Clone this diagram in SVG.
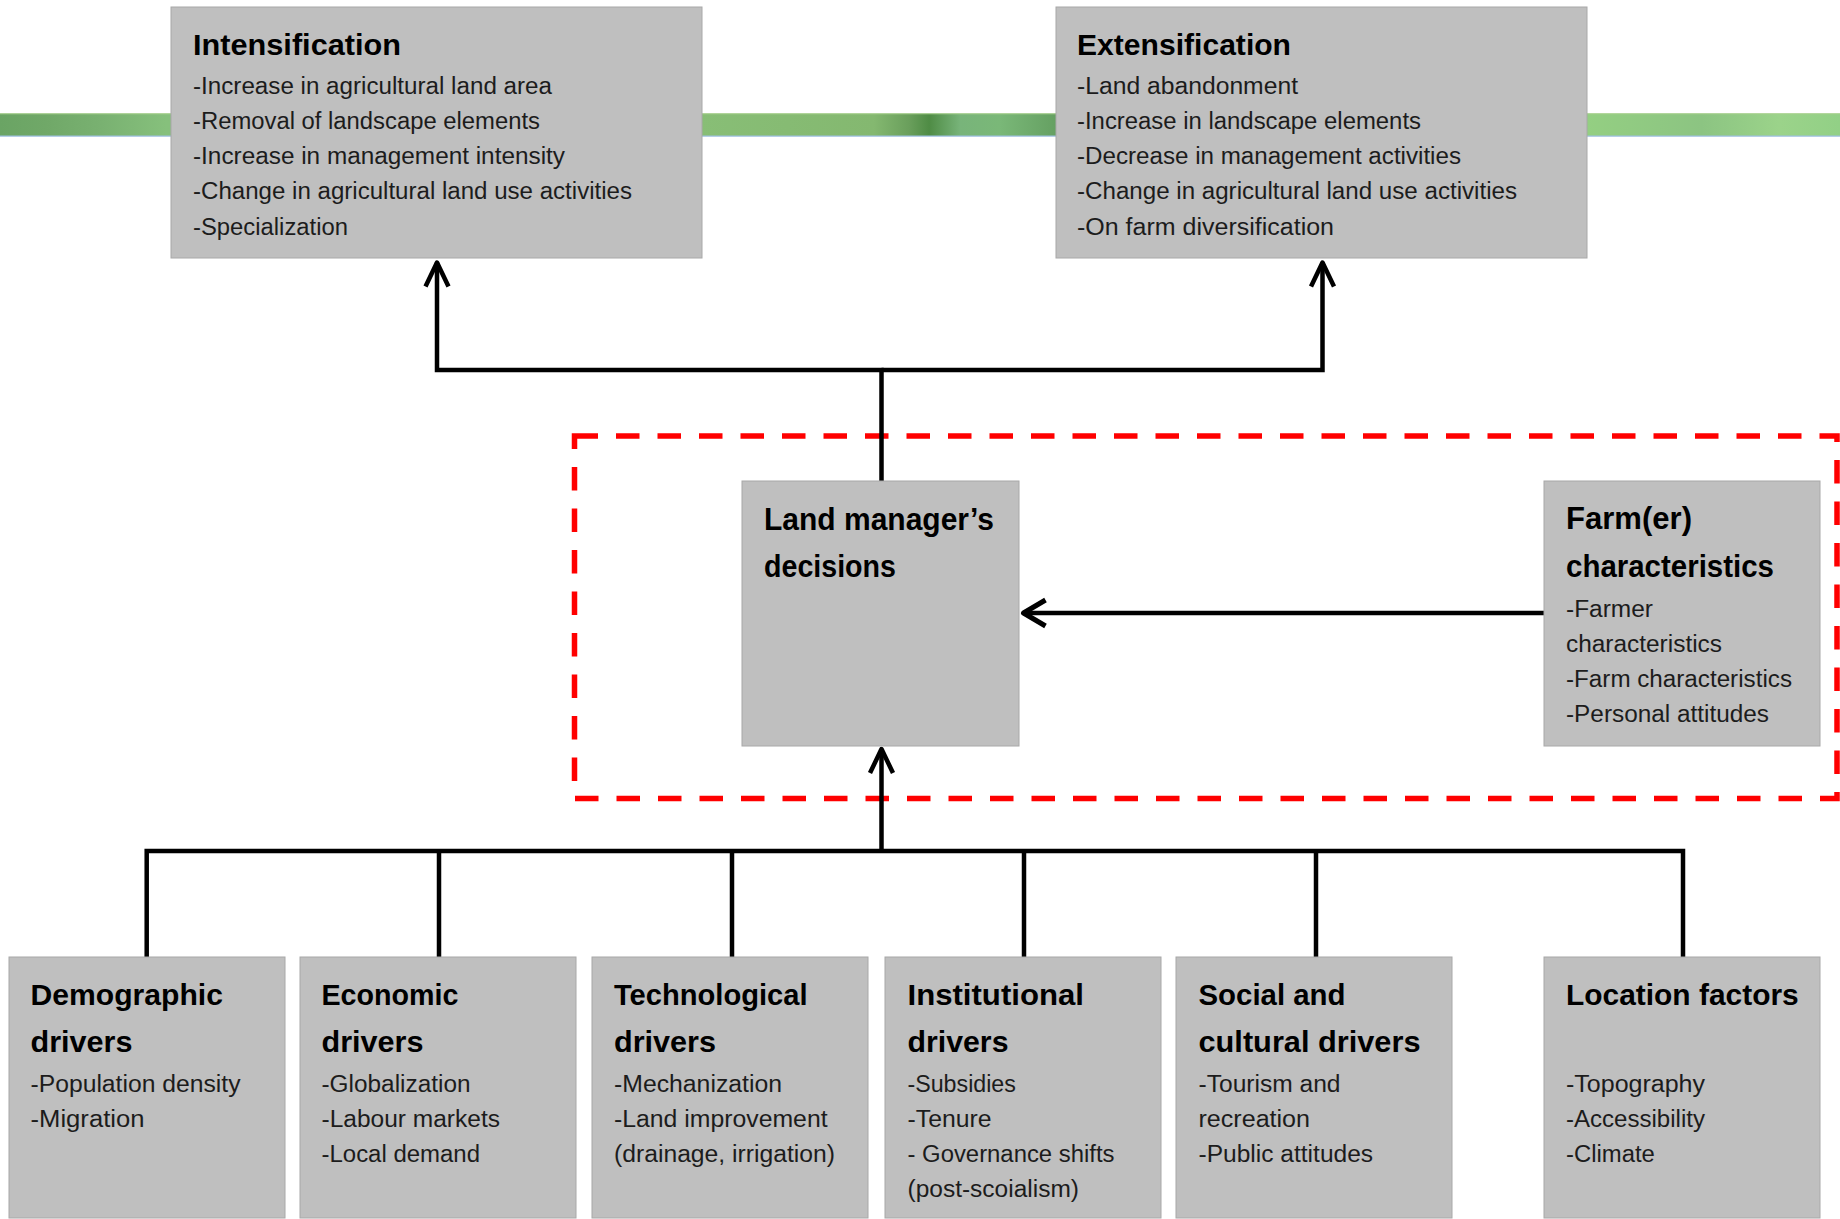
<svg xmlns="http://www.w3.org/2000/svg" width="1840" height="1219" viewBox="0 0 1840 1219">
<style>
.box{fill:#bfbfbf;stroke:#a8a8a8;stroke-width:1}
.t{font-family:"Liberation Sans Narrow","Liberation Sans",Arial,sans-serif;font-weight:bold;font-size:30px;fill:#000}
.t2{font-family:"Liberation Sans Narrow","Liberation Sans",Arial,sans-serif;font-weight:bold;font-size:31px;fill:#000}
.b{font-family:"Liberation Sans Narrow","Liberation Sans",Arial,sans-serif;font-size:23.5px;fill:#1c1c1c}
.ln{fill:none;stroke:#000;stroke-width:4.5;stroke-linejoin:miter}
</style>
<defs>
<linearGradient id="band" x1="0" y1="0" x2="1840" y2="0" gradientUnits="userSpaceOnUse">
<stop offset="0" stop-color="#6aa464"/>
<stop offset="0.025" stop-color="#70a868"/>
<stop offset="0.055" stop-color="#79b171"/>
<stop offset="0.09" stop-color="#86c07c"/>
<stop offset="0.38" stop-color="#88be76"/>
<stop offset="0.475" stop-color="#84b870"/>
<stop offset="0.494" stop-color="#6a9f5c"/>
<stop offset="0.505" stop-color="#4f8c45"/>
<stop offset="0.522" stop-color="#78b47a"/>
<stop offset="0.543" stop-color="#7ab878"/>
<stop offset="0.574" stop-color="#65a062"/>
<stop offset="0.862" stop-color="#94cf82"/>
<stop offset="0.925" stop-color="#8cc482"/>
<stop offset="0.967" stop-color="#9bd38a"/>
<stop offset="1" stop-color="#92d086"/>
</linearGradient>
<marker id="ah" markerUnits="userSpaceOnUse" viewBox="-30 -16 34 32" refX="0" refY="0" markerWidth="34" markerHeight="32" orient="auto" overflow="visible">
<path d="M-24,-11.5 L0,0 L-24,11.5" fill="none" stroke="#000" stroke-width="4.5" stroke-linejoin="round"/>
</marker>
<marker id="ah2" markerUnits="userSpaceOnUse" viewBox="-30 -16 34 32" refX="0" refY="0" markerWidth="34" markerHeight="32" orient="auto" overflow="visible">
<path d="M-22,-13 L0,0 L-22,13" fill="none" stroke="#000" stroke-width="5" stroke-linejoin="round"/>
</marker>
</defs>

<g id="band-bg">
<rect x="0" y="113.5" width="1840" height="22.5" fill="url(#band)"/>
<line x1="0" y1="113.8" x2="1840" y2="113.8" stroke="#a9d18e" stroke-width="1"/>
<line x1="0" y1="136.2" x2="1840" y2="136.2" stroke="#9dbfe0" stroke-width="1.2"/>
</g>

<g id="frame">
<rect x="574.5" y="436" width="1262.5" height="362.5" fill="none" stroke="#ff0000" stroke-width="5.5" stroke-dasharray="23.5 18"/>
</g>

<g id="connectors">
<path class="ln" d="M881.5,481 V370 H437 V262.5" marker-end="url(#ah)"/>
<path class="ln" d="M881.5,370 H1322.5 V262.5" marker-end="url(#ah)"/>
<path class="ln" d="M146.7,957 V851 H1683 V957"/>
<path class="ln" d="M439,851 V957"/>
<path class="ln" d="M732,851 V957"/>
<path class="ln" d="M1024,851 V957"/>
<path class="ln" d="M1316,851 V957"/>
<path class="ln" d="M881.5,851 V749" marker-end="url(#ah)"/>
<path class="ln" d="M1544,613 H1023.5" stroke-width="5.5" marker-end="url(#ah2)"/>
</g>

<g id="intensification">
<rect class="box" x="171" y="7" width="531" height="251"/>
<text class="t" x="193" y="55" textLength="208" lengthAdjust="spacingAndGlyphs">Intensification</text>
<text class="b" x="193" y="94" textLength="359" lengthAdjust="spacingAndGlyphs">-Increase in agricultural land area</text>
<text class="b" x="193" y="129" textLength="347" lengthAdjust="spacingAndGlyphs">-Removal of landscape elements</text>
<text class="b" x="193" y="164" textLength="372" lengthAdjust="spacingAndGlyphs">-Increase in management intensity</text>
<text class="b" x="193" y="199" textLength="439" lengthAdjust="spacingAndGlyphs">-Change in agricultural land use activities</text>
<text class="b" x="193" y="235" textLength="155" lengthAdjust="spacingAndGlyphs">-Specialization</text>
</g>

<g id="extensification">
<rect class="box" x="1056" y="7" width="531" height="251"/>
<text class="t" x="1077" y="55" textLength="214" lengthAdjust="spacingAndGlyphs">Extensification</text>
<text class="b" x="1077" y="94" textLength="221" lengthAdjust="spacingAndGlyphs">-Land abandonment</text>
<text class="b" x="1077" y="129" textLength="344" lengthAdjust="spacingAndGlyphs">-Increase in landscape elements</text>
<text class="b" x="1077" y="164" textLength="384" lengthAdjust="spacingAndGlyphs">-Decrease in management activities</text>
<text class="b" x="1077" y="199" textLength="440" lengthAdjust="spacingAndGlyphs">-Change in agricultural land use activities</text>
<text class="b" x="1077" y="235" textLength="257" lengthAdjust="spacingAndGlyphs">-On farm diversification</text>
</g>

<g id="land-manager">
<rect class="box" x="742" y="481" width="277" height="265"/>
<text class="t2" x="764" y="530" textLength="230" lengthAdjust="spacingAndGlyphs">Land manager’s</text>
<text class="t2" x="764" y="577" textLength="132" lengthAdjust="spacingAndGlyphs">decisions</text>
</g>

<g id="farmer">
<rect class="box" x="1544" y="481" width="276" height="265"/>
<text class="t2" x="1566" y="529" textLength="126" lengthAdjust="spacingAndGlyphs">Farm(er)</text>
<text class="t2" x="1566" y="577" textLength="208" lengthAdjust="spacingAndGlyphs">characteristics</text>
<text class="b" x="1566" y="617" textLength="87" lengthAdjust="spacingAndGlyphs">-Farmer</text>
<text class="b" x="1566" y="652" textLength="156" lengthAdjust="spacingAndGlyphs">characteristics</text>
<text class="b" x="1566" y="687" textLength="226" lengthAdjust="spacingAndGlyphs">-Farm characteristics</text>
<text class="b" x="1566" y="722" textLength="203" lengthAdjust="spacingAndGlyphs">-Personal attitudes</text>
</g>

<g id="demographic">
<rect class="box" x="9" y="957" width="276" height="261"/>
<text class="t" x="30.5" y="1005" textLength="192.5" lengthAdjust="spacingAndGlyphs">Demographic</text>
<text class="t" x="30.5" y="1052" textLength="102" lengthAdjust="spacingAndGlyphs">drivers</text>
<text class="b" x="30.5" y="1092" textLength="210" lengthAdjust="spacingAndGlyphs">-Population density</text>
<text class="b" x="30.5" y="1127" textLength="114" lengthAdjust="spacingAndGlyphs">-Migration</text>
</g>

<g id="economic">
<rect class="box" x="300" y="957" width="276" height="261"/>
<text class="t" x="321.5" y="1005" textLength="137" lengthAdjust="spacingAndGlyphs">Economic</text>
<text class="t" x="321.5" y="1052" textLength="102" lengthAdjust="spacingAndGlyphs">drivers</text>
<text class="b" x="321.5" y="1092" textLength="149" lengthAdjust="spacingAndGlyphs">-Globalization</text>
<text class="b" x="321.5" y="1127" textLength="178.5" lengthAdjust="spacingAndGlyphs">-Labour markets</text>
<text class="b" x="321.5" y="1162" textLength="158.5" lengthAdjust="spacingAndGlyphs">-Local demand</text>
</g>

<g id="technological">
<rect class="box" x="592" y="957" width="276" height="261"/>
<text class="t" x="614" y="1005" textLength="193.6" lengthAdjust="spacingAndGlyphs">Technological</text>
<text class="t" x="614" y="1052" textLength="102" lengthAdjust="spacingAndGlyphs">drivers</text>
<text class="b" x="614" y="1092" textLength="168" lengthAdjust="spacingAndGlyphs">-Mechanization</text>
<text class="b" x="614" y="1127" textLength="213.6" lengthAdjust="spacingAndGlyphs">-Land improvement</text>
<text class="b" x="614" y="1162" textLength="221" lengthAdjust="spacingAndGlyphs">(drainage, irrigation)</text>
</g>

<g id="institutional">
<rect class="box" x="885" y="957" width="276" height="261"/>
<text class="t" x="907.5" y="1005" textLength="176.4" lengthAdjust="spacingAndGlyphs">Institutional</text>
<text class="t" x="907.5" y="1052" textLength="101" lengthAdjust="spacingAndGlyphs">drivers</text>
<text class="b" x="907.5" y="1092" textLength="108.4" lengthAdjust="spacingAndGlyphs">-Subsidies</text>
<text class="b" x="907.5" y="1127" textLength="84" lengthAdjust="spacingAndGlyphs">-Tenure</text>
<text class="b" x="907.5" y="1162" textLength="207" lengthAdjust="spacingAndGlyphs">- Governance shifts</text>
<text class="b" x="907.5" y="1197" textLength="171.5" lengthAdjust="spacingAndGlyphs">(post-scoialism)</text>
</g>

<g id="social-cultural">
<rect class="box" x="1176" y="957" width="276" height="261"/>
<text class="t" x="1198.5" y="1005" textLength="147" lengthAdjust="spacingAndGlyphs">Social and</text>
<text class="t" x="1198.5" y="1052" textLength="222" lengthAdjust="spacingAndGlyphs">cultural drivers</text>
<text class="b" x="1198.5" y="1092" textLength="142" lengthAdjust="spacingAndGlyphs">-Tourism and</text>
<text class="b" x="1198.5" y="1127" textLength="111.5" lengthAdjust="spacingAndGlyphs">recreation</text>
<text class="b" x="1198.5" y="1162" textLength="174.6" lengthAdjust="spacingAndGlyphs">-Public attitudes</text>
</g>

<g id="location">
<rect class="box" x="1544" y="957" width="276" height="261"/>
<text class="t" x="1566" y="1005" textLength="232.7" lengthAdjust="spacingAndGlyphs">Location factors</text>
<text class="b" x="1566" y="1092" textLength="139" lengthAdjust="spacingAndGlyphs">-Topography</text>
<text class="b" x="1566" y="1127" textLength="139" lengthAdjust="spacingAndGlyphs">-Accessibility</text>
<text class="b" x="1566" y="1162" textLength="88.8" lengthAdjust="spacingAndGlyphs">-Climate</text>
</g>
</svg>
